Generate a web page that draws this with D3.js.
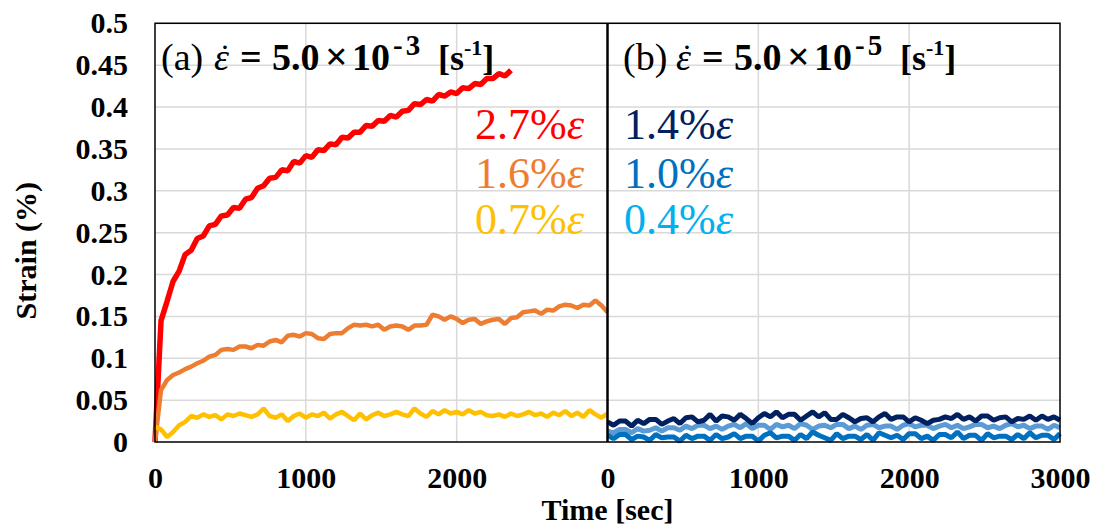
<!DOCTYPE html>
<html>
<head>
<meta charset="utf-8">
<script src="https://cdn.jsdelivr.net/npm/d3@7"></script>
<style>
  body { margin: 0; background: #fff; }
  svg { display: block; }
</style>
</head>
<body>
<div id="chart"></div>
<script>
// strain vs time, two panels sharing one x axis (0-3000 s each)
const stepSec = 40;

const xTickValues = [0, 1000, 2000, 3000, 4000, 5000, 6000];
const xTickLabels = ["0", "1000", "2000", "0", "1000", "2000", "3000"];
const yTickValues = [0, 0.05, 0.1, 0.15, 0.2, 0.25, 0.3, 0.35, 0.4, 0.45, 0.5];
const yTickLabels = ["0", "0.05", "0.1", "0.15", "0.2", "0.25", "0.3", "0.35", "0.4", "0.45", "0.5"];
const vGridValues = [1000, 2000, 4000, 5000];

// panel (a), strain rate 5.0e-3
const red27 = [0, 0.145, 0.168, 0.192, 0.204, 0.224, 0.229, 0.243, 0.246, 0.258, 0.26, 0.27, 0.271, 0.28, 0.279,
  0.29, 0.292, 0.303, 0.306, 0.315, 0.316, 0.325, 0.324, 0.335, 0.333, 0.342, 0.34, 0.349, 0.348, 0.356,
  0.355, 0.364, 0.363, 0.37, 0.37, 0.378, 0.377, 0.384, 0.383, 0.39, 0.388, 0.395, 0.396, 0.404, 0.403,
  0.409, 0.407, 0.415, 0.413, 0.418, 0.416, 0.423, 0.422, 0.428, 0.427, 0.434, 0.434, 0.44, 0.437, 0.444];
const orange16 = [0, 0.062, 0.074, 0.08, 0.083, 0.087, 0.09, 0.094, 0.097, 0.102, 0.104, 0.11, 0.111, 0.11, 0.114,
  0.114, 0.112, 0.116, 0.115, 0.12, 0.122, 0.119, 0.127, 0.128, 0.126, 0.13, 0.129, 0.124, 0.123, 0.129,
  0.13, 0.13, 0.136, 0.14, 0.139, 0.14, 0.138, 0.14, 0.134, 0.138, 0.139, 0.138, 0.134, 0.139, 0.139,
  0.14, 0.152, 0.15, 0.146, 0.15, 0.147, 0.142, 0.146, 0.147, 0.141, 0.144, 0.146, 0.147, 0.141, 0.148,
  0.149, 0.155, 0.156, 0.157, 0.153, 0.158, 0.157, 0.162, 0.164, 0.163, 0.16, 0.164, 0.163, 0.169, 0.163, 0.155];
const yellow07 = [0.018, 0.015, 0.006, 0.012, 0.02, 0.024, 0.031, 0.029, 0.033, 0.03, 0.032, 0.027, 0.033, 0.031, 0.034,
  0.032, 0.03, 0.033, 0.04, 0.031, 0.029, 0.033, 0.025, 0.031, 0.034, 0.029, 0.033, 0.031, 0.035, 0.028,
  0.033, 0.036, 0.031, 0.026, 0.034, 0.027, 0.032, 0.035, 0.031, 0.033, 0.036, 0.033, 0.031, 0.04, 0.034,
  0.03, 0.037, 0.033, 0.038, 0.034, 0.036, 0.033, 0.038, 0.034, 0.036, 0.032, 0.031, 0.033, 0.03, 0.034,
  0.031, 0.033, 0.036, 0.032, 0.034, 0.03, 0.035, 0.032, 0.037, 0.031, 0.035, 0.03, 0.038, 0.033, 0.029, 0.034];

// panel (b), strain rate 5.0e-5
const navy14 = [0.024, 0.02, 0.025, 0.025, 0.019, 0.026, 0.022, 0.027, 0.027, 0.021,
  0.025, 0.028, 0.022, 0.029, 0.03, 0.024, 0.026, 0.033, 0.025, 0.031,
  0.03, 0.026, 0.033, 0.028, 0.022, 0.029, 0.034, 0.03, 0.036, 0.029,
  0.033, 0.033, 0.026, 0.031, 0.036, 0.03, 0.035, 0.027, 0.027, 0.033,
  0.029, 0.024, 0.028, 0.029, 0.024, 0.03, 0.034, 0.027, 0.03, 0.03,
  0.024, 0.029, 0.026, 0.022, 0.026, 0.027, 0.03, 0.028, 0.033, 0.027,
  0.03, 0.025, 0.031, 0.031, 0.026, 0.029, 0.03, 0.024, 0.028, 0.027,
  0.031, 0.026, 0.031, 0.027, 0.03, 0.026];
const light04 = [0.013, 0.011, 0.015, 0.015, 0.011, 0.016, 0.013, 0.014, 0.017, 0.013,
  0.017, 0.017, 0.014, 0.019, 0.016, 0.02, 0.02, 0.016, 0.019, 0.015,
  0.019, 0.021, 0.017, 0.022, 0.016, 0.02, 0.02, 0.015, 0.021, 0.018,
  0.02, 0.016, 0.022, 0.02, 0.015, 0.019, 0.02, 0.017, 0.021, 0.021,
  0.016, 0.019, 0.015, 0.02, 0.021, 0.017, 0.019, 0.019, 0.015, 0.02,
  0.022, 0.018, 0.02, 0.02, 0.016, 0.019, 0.021, 0.017, 0.02, 0.016,
  0.018, 0.021, 0.021, 0.017, 0.019, 0.016, 0.02, 0.022, 0.018, 0.02,
  0.016, 0.019, 0.019, 0.015, 0.02, 0.017];
const blue10 = [0.008, 0.004, 0.009, 0.009, 0.003, 0.007, 0.006, 0.002, 0.009, 0.005,
  0.006, 0.006, 0.001, 0.008, 0.004, 0.007, 0.007, 0.002, 0.009, 0.004,
  0.006, 0.01, 0.004, 0.007, 0.007, 0.001, 0.008, 0.011, 0.005, 0.007,
  0.007, 0.002, 0.009, 0.004, 0.012, 0.008, 0.005, 0.002, 0.01, 0.004,
  0.007, 0.007, 0.003, 0.009, 0.002, 0.011, 0.008, 0.005, 0.008, 0.003,
  0.01, 0.01, 0.004, 0.007, 0.002, 0.009, 0.009, 0.005, 0.012, 0.004,
  0.008, 0.008, 0.002, 0.01, 0.005, 0.007, 0.007, 0.003, 0.009, 0.004,
  0.011, 0.005, 0.008, 0.008, 0.003, 0.01];

const series = [
  {values: red27, offset: 0, color: "#FF0000", width: 5.5},
  {values: orange16, offset: 0, color: "#ED7D31", width: 4.5},
  {values: yellow07, offset: 0, color: "#FFC000", width: 4.5},
  {values: light04, offset: 3000, color: "#5B9BD5", width: 5},
  {values: blue10, offset: 3000, color: "#0070C0", width: 5},
  {values: navy14, offset: 3000, color: "#002060", width: 5}
];

const labels = [
  {text: "2.7%", color: "#FF0000", panel: 0, row: 0},
  {text: "1.6%", color: "#ED7D31", panel: 0, row: 1},
  {text: "0.7%", color: "#FFC000", panel: 0, row: 2},
  {text: "1.4%", color: "#002060", panel: 1, row: 0},
  {text: "1.0%", color: "#0070C0", panel: 1, row: 1},
  {text: "0.4%", color: "#00B0F0", panel: 1, row: 2}
];

const panelTitles = [{tag: "(a)", exp: "-3"}, {tag: "(b)", exp: "-5"}];

const W = 1101, H = 532;
const plot = {left: 155, right: 1060, top: 23.3, bottom: 442};
const font = "'Liberation Serif', 'Times New Roman', serif";

const svg = d3.select("#chart").append("svg").attr("width", W).attr("height", H);
svg.append("rect").attr("width", W).attr("height", H).attr("fill", "#fff");

const x = d3.scaleLinear().domain([0, 6000]).range([plot.left, plot.right]);
const y = d3.scaleLinear().domain([0, 0.5]).range([plot.bottom, plot.top]);

// grid
svg.append("g").selectAll("line")
  .data(yTickValues.slice(1))
  .enter().append("line")
    .attr("x1", plot.left).attr("x2", plot.right)
    .attr("y1", d => y(d)).attr("y2", d => y(d))
    .attr("stroke", "#d9d9d9").attr("stroke-width", 1.5);

svg.append("g").selectAll("line")
  .data(vGridValues)
  .enter().append("line")
    .attr("x1", d => x(d)).attr("x2", d => x(d))
    .attr("y1", plot.top).attr("y2", plot.bottom)
    .attr("stroke", "#d9d9d9").attr("stroke-width", 1.5);

// traces
const line = d3.line()
  .x(d => x(d.t))
  .y(d => y(d.v));

series.forEach(s => {
  const pts = s.values.map((v, i) => ({t: s.offset + i * stepSec, v: v}));
  svg.append("path")
    .datum(pts)
    .attr("d", line)
    .attr("fill", "none")
    .attr("stroke", s.color)
    .attr("stroke-width", s.width)
    .attr("stroke-linejoin", "bevel");
});

// frame and panel divider
svg.append("rect")
  .attr("x", plot.left).attr("y", plot.top)
  .attr("width", plot.right - plot.left).attr("height", plot.bottom - plot.top)
  .attr("fill", "none").attr("stroke", "#000").attr("stroke-width", 1.5);
svg.append("line")
  .attr("x1", x(3000)).attr("x2", x(3000))
  .attr("y1", plot.top).attr("y2", plot.bottom)
  .attr("stroke", "#000").attr("stroke-width", 2.5);

// axes
const yAxis = svg.append("g")
  .attr("transform", `translate(${plot.left},0)`)
  .call(d3.axisLeft(y).tickValues(yTickValues).tickSize(0).tickPadding(27)
    .tickFormat((d, i) => yTickLabels[i]));
const xAxis = svg.append("g")
  .attr("transform", `translate(0,${plot.bottom})`)
  .call(d3.axisBottom(x).tickValues(xTickValues).tickSize(0).tickPadding(25)
    .tickFormat((d, i) => xTickLabels[i]));

[yAxis, xAxis].forEach(a => {
  a.select(".domain").remove();
  a.selectAll("text")
    .attr("font-family", font)
    .attr("font-weight", "bold")
    .attr("font-size", "30px")
    .attr("fill", "#000");
});

svg.append("text")
  .attr("transform", `translate(36,${(plot.top + plot.bottom) / 2 + 18}) rotate(-90)`)
  .attr("text-anchor", "middle")
  .attr("font-family", font).attr("font-weight", "bold").attr("font-size", "30px")
  .text("Strain (%)");

svg.append("text")
  .attr("x", x(3000)).attr("y", 520)
  .attr("text-anchor", "middle")
  .attr("font-family", font).attr("font-weight", "bold").attr("font-size", "30px")
  .text("Time [sec]");

// panel titles, pieces placed relative to the start of each title
const titleX = [161, 623];
panelTitles.forEach((p, i) => {
  const x0 = titleX[i];
  const t = svg.append("text")
    .attr("x", x0).attr("y", 70)
    .attr("font-family", font).attr("font-size", "38px").attr("fill", "#000");
  t.append("tspan").text(p.tag);
  t.append("tspan").attr("x", x0 + 53).attr("font-style", "italic").text("\u03B5");
  t.append("tspan").attr("x", x0 + 79).attr("font-weight", "bold").text("=");
  t.append("tspan").attr("x", x0 + 111).attr("font-weight", "bold").text("5.0");
  t.append("tspan").attr("x", x0 + 164).attr("font-weight", "bold").attr("font-size", "40px").text("\u00D7");
  t.append("tspan").attr("x", x0 + 191).attr("font-weight", "bold").text("10");
  t.append("tspan").attr("dx", 3).attr("font-weight", "bold").attr("font-size", "29px")
    .attr("letter-spacing", "3px").attr("dy", -15).text(p.exp);
  t.append("tspan").attr("x", x0 + 277).attr("dy", 15).attr("font-weight", "bold").attr("font-size", "36px").text("[s");
  t.append("tspan").attr("font-weight", "bold").attr("font-size", "22px").attr("dy", -15).text("-1");
  t.append("tspan").attr("font-weight", "bold").attr("font-size", "36px").attr("dy", 15).text("]");
  // dot accent over epsilon (time derivative)
  svg.append("text")
    .attr("x", x0 + 64).attr("y", 68)
    .attr("text-anchor", "middle")
    .attr("font-family", font).attr("font-size", "34px").attr("fill", "#000")
    .text("\u02D9");
});

// strain amplitude labels
const labelX = [475, 624];
const labelY = [139, 187.5, 234];
labels.forEach(l => {
  const t = svg.append("text")
    .attr("x", labelX[l.panel]).attr("y", labelY[l.row])
    .attr("font-family", font).attr("font-size", "44px")
    .attr("fill", l.color);
  t.append("tspan").text(l.text);
  t.append("tspan").attr("font-style", "italic").text("\u03B5");
});
</script>
</body>
</html>
